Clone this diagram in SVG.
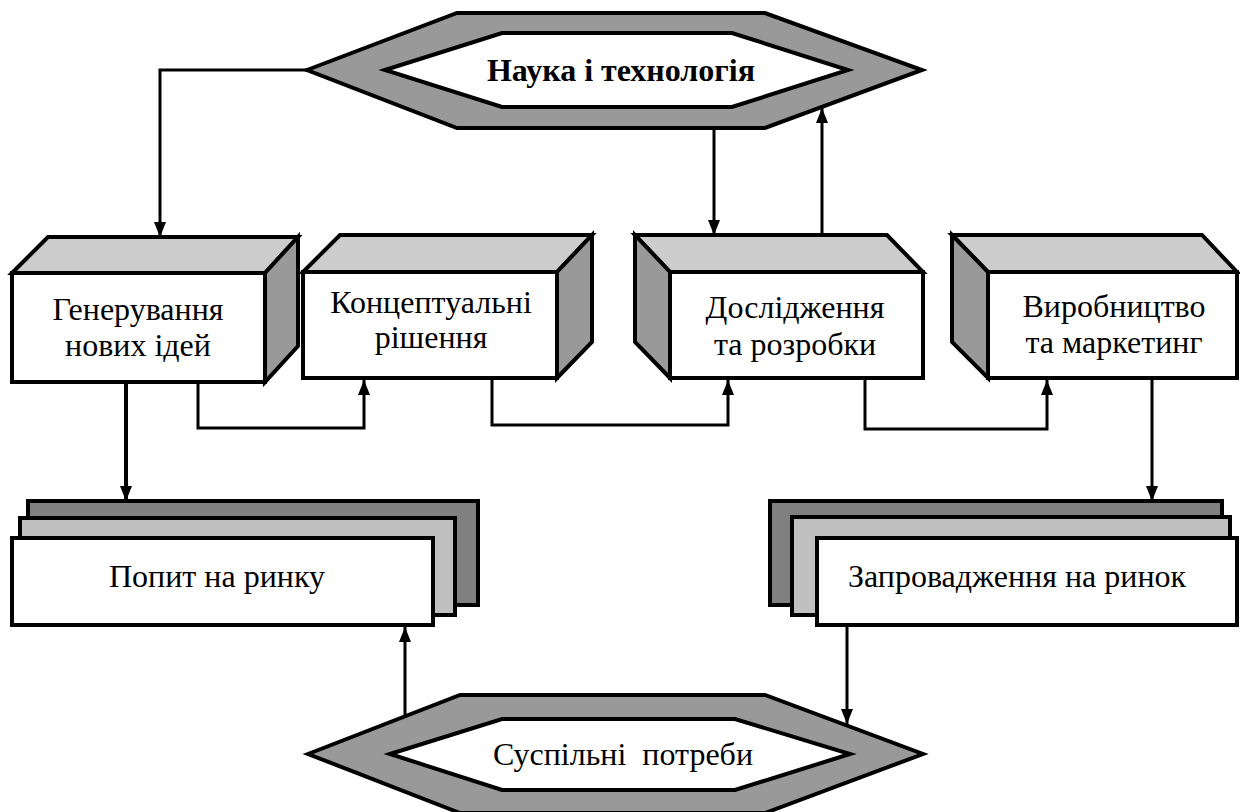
<svg xmlns="http://www.w3.org/2000/svg" width="1240" height="812" viewBox="0 0 1240 812">
<style>
.ln{fill:none;stroke:#000;stroke-width:3}
.lnb{fill:none;stroke:#000;stroke-width:4}
.bx{stroke:#000;stroke-width:4;stroke-linejoin:miter}
.white{fill:#fff}
.top{fill:#cccccc}
.side{fill:#999999}
.dark{fill:#808080}
.mid{fill:#c0c0c0}
.hexo{fill:#999999;stroke:#000;stroke-width:4}
.hexi{fill:#fff;stroke:#000;stroke-width:4}
.t{font-family:'Liberation Serif','Times New Roman',serif;font-size:32px;fill:#000;text-anchor:middle}
.bold{font-weight:bold}
</style>
<defs>
<marker id="ah" markerUnits="userSpaceOnUse" markerWidth="16" markerHeight="12" refX="15" refY="6" orient="auto">
<path d="M0,0 L15,6 L0,12 Z" fill="#000"/>
</marker>
</defs>
<rect width="1240" height="812" fill="#fff"/>

<g id="connectors">
<path class="ln" d="M307,70 H160 V237" marker-end="url(#ah)"/>
<path class="ln" d="M714,128 V235" marker-end="url(#ah)"/>
<path class="ln" d="M822,235 V108" marker-end="url(#ah)"/>
<path class="lnb" d="M126,382 V501" marker-end="url(#ah)"/>
<path class="ln" d="M198,382 V428 H364 V380" marker-end="url(#ah)"/>
<path class="ln" d="M492,378 V425 H728 V380" marker-end="url(#ah)"/>
<path class="ln" d="M865,378 V429 H1047 V380" marker-end="url(#ah)"/>
<path class="ln" d="M1152,378 V501" marker-end="url(#ah)"/>
<path class="ln" d="M847,625 V724" marker-end="url(#ah)"/>
<path class="ln" d="M405,716 V627" marker-end="url(#ah)"/>
</g>

<g id="science">
<polygon class="hexo" points="307,70 457,13 765,13 922,70 765,128 457,128"/>
<polygon class="hexi" points="385,70 502,33 732,33 848,70 732,107 502,107"/>
<text class="t bold" x="621" y="81">Наука і технологія</text>
</g>

<g id="ideas">
<polygon class="bx top" points="12,273 48,237 298,237 265,273"/>
<polygon class="bx side" points="265,273 298,237 298,346 265,382"/>
<rect class="bx white" x="12" y="273" width="253" height="109"/>
<text class="t" x="138" y="320">Генерування</text>
<text class="t" x="138" y="356">нових ідей</text>
</g>

<g id="concept">
<polygon class="bx top" points="303,272 340,235 592,235 557,272"/>
<polygon class="bx side" points="557,272 592,235 592,342 557,378"/>
<rect class="bx white" x="303" y="272" width="254" height="106"/>
<text class="t" x="431" y="313">Концептуальні</text>
<text class="t" x="431" y="348">рішення</text>
</g>

<g id="research">
<polygon class="bx top" points="635,235 887,235 923,272 670,272"/>
<polygon class="bx side" points="635,235 670,272 670,378 635,342"/>
<rect class="bx white" x="670" y="272" width="253" height="106"/>
<text class="t" x="795" y="318">Дослідження</text>
<text class="t" x="795" y="355">та розробки</text>
</g>

<g id="production">
<polygon class="bx top" points="952,235 1202,235 1237,272 988,272"/>
<polygon class="bx side" points="952,235 988,272 988,378 952,342"/>
<rect class="bx white" x="988" y="272" width="249" height="106"/>
<text class="t" x="1114" y="317">Виробництво</text>
<text class="t" x="1114" y="353">та маркетинг</text>
</g>

<g id="demand">
<rect class="bx dark" x="28" y="501" width="450" height="104"/>
<rect class="bx mid" x="20" y="518" width="435" height="97"/>
<rect class="bx white" x="12" y="538" width="421" height="87"/>
<text class="t" x="217" y="587">Попит на ринку</text>
</g>

<g id="launch">
<rect class="bx dark" x="770" y="501" width="452" height="104"/>
<rect class="bx mid" x="792" y="517" width="438" height="98"/>
<rect class="bx white" x="817" y="538" width="420" height="87"/>
<text class="t" x="1017" y="587">Запровадження на ринок</text>
</g>

<g id="needs">
<polygon class="hexo" points="308,754 460,695 765,695 923,754 765,813 460,813"/>
<polygon class="hexi" points="390,754 502,719 735,719 850,754 735,790 502,790"/>
<text class="t" x="623" y="765" xml:space="preserve">Суспільні  потреби</text>
</g>
</svg>
